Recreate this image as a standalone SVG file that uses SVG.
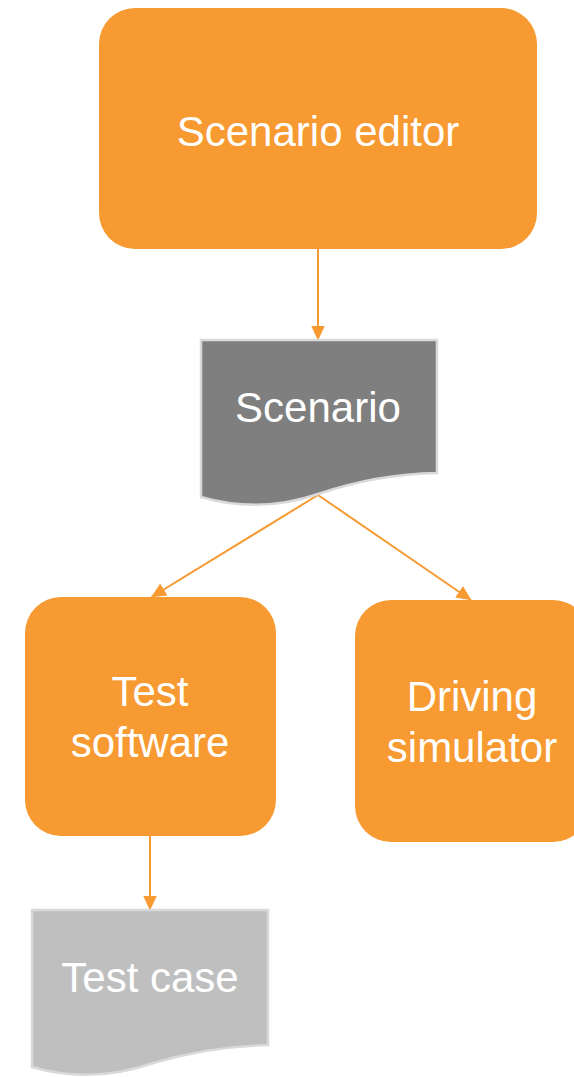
<svg xmlns="http://www.w3.org/2000/svg" width="574" height="1077" viewBox="0 0 574 1077">
  <style>
    .proc { fill: #f79a32; }
    .doc { stroke: #d9d9d9; stroke-width: 2.5; }
    .lbl { font-family: "Liberation Sans", Arial, sans-serif; font-size: 42px; fill: #ffffff; text-anchor: middle; }
    .edge { stroke: #f79a32; stroke-width: 2; fill: none; marker-end: url(#arrow); }
  </style>
  <defs>
    <marker id="arrow" markerUnits="userSpaceOnUse" markerWidth="16" markerHeight="16" refX="14.5" refY="7" orient="auto">
      <path d="M0,0 L15,7 L0,14 Z" fill="#f79a32"/>
    </marker>
  </defs>
  <rect width="574" height="1077" fill="#ffffff"/>
  <g id="connectors">
    <line class="edge" x1="318" y1="249" x2="318" y2="340"/>
    <line class="edge" x1="318" y1="495" x2="151.5" y2="597"/>
    <line class="edge" x1="318" y1="495" x2="471" y2="600"/>
    <line class="edge" x1="150" y1="836" x2="150" y2="910"/>
  </g>
  <g id="scenario-editor">
    <rect class="proc" x="99" y="8" width="438" height="241" rx="36" ry="36"/>
    <text class="lbl" x="318" y="146">Scenario editor</text>
  </g>
  <g id="scenario">
    <path class="doc" fill="#7f7f7f" d="M201,340 H437 V473 Q377,474 318,494 Q260,514 201,497 Z"/>
    <text class="lbl" x="318" y="422">Scenario</text>
  </g>
  <g id="test-software">
    <rect class="proc" x="25" y="597" width="251" height="239" rx="36" ry="36"/>
    <text class="lbl" x="150" y="706">Test</text>
    <text class="lbl" x="150" y="757">software</text>
  </g>
  <g id="driving-simulator">
    <rect class="proc" x="355" y="600" width="234" height="242" rx="36" ry="36"/>
    <text class="lbl" x="472" y="711">Driving</text>
    <text class="lbl" x="472" y="762">simulator</text>
  </g>
  <g id="test-case">
    <path class="doc" fill="#bfbfbf" d="M32,910 H268 V1045 Q209,1046 150,1064 Q91,1084 32,1067 Z"/>
    <text class="lbl" x="150" y="992">Test case</text>
  </g>
</svg>
